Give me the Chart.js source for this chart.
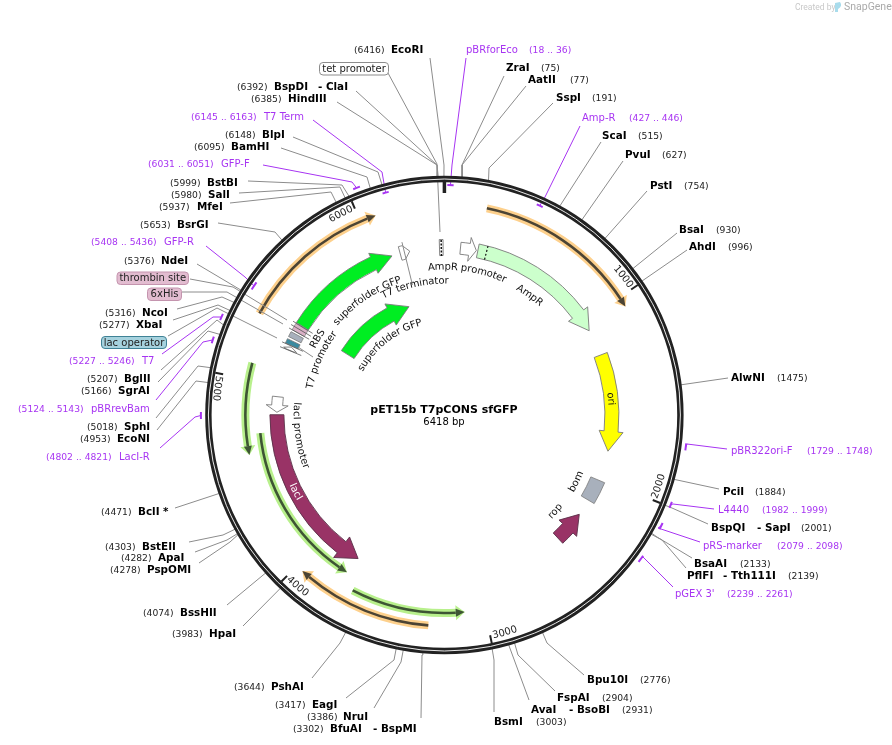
<!DOCTYPE html>
<html>
<head>
<meta charset="utf-8">
<title>pET15b T7pCONS sfGFP</title>
<script src="https://cdn.jsdelivr.net/npm/chart.js@4"></script>
<style>
  html, body { margin: 0; padding: 0; background: #fff; }
  #wrap { width: 892px; height: 745px; }
</style>
</head>
<body>
<div id="wrap"><canvas id="plasmid"></canvas></div>
<script>
// plasmid
const plasmidName = 'pET15b T7pCONS sfGFP';
const plasmidLength = 6418;
const tickValues = [1000, 2000, 3000, 4000, 5000, 6000];

// restriction sites (bp)
const siteNames = ['EcoRI','BspDI','HindIII','BlpI','BamHI','BstBI','SalI','MfeI','BsrGI','NdeI','NcoI','XbaI','BglII','SgrAI','SphI','EcoNI','BclI *','BstEII','ApaI','PspOMI','BssHII','HpaI','PshAI','EagI','NruI','BfuAI','BsmI','AvaI','FspAI','Bpu10I','AlwNI','PciI','BspQI','BsaAI','PflFI','ZraI','AatII','SspI','ScaI','PvuI','PstI','BsaI','AhdI'];
const siteSecondNames = {BspDI: '- ClaI', BfuAI: '- BspMI', AvaI: '- BsoBI', BspQI: '- SapI', PflFI: '- Tth111I'};
const sitePositions = [6416,6392,6385,6148,6095,5999,5980,5937,5653,5376,5316,5277,5207,5166,5018,4953,4471,4303,4282,4278,4074,3983,3644,3417,3386,3302,3003,2931,2904,2776,1475,1884,2001,2133,2139,75,77,191,515,627,754,930,996];

// primers
const primerNames = ['pBRforEco','Amp-R','T7 Term','GFP-F','GFP-R','T7','pBRrevBam','LacI-R','pBR322ori-F','L4440','pRS-marker',"pGEX 3'"];
const primerStarts = [18,427,6145,6031,5408,5227,5124,4802,1729,1982,2079,2239];
const primerEnds = [36,446,6163,6051,5436,5246,5143,4821,1748,1999,2098,2261];
const primerInside = [true,true,true,false,true,false,false,false,false,false,false,false];

// features, start = tail of the arrow, end = tip
const thinNames = ['orange1','orange2','orange3','green1','green2','green3'];
const thinStarts = [207,5327,3287,5084,4713,3701];
const thinEnds = [1053,6079,3963,4607,3776,3104];

const arrowNames = ['superfolder GFP','superfolder GFP','AmpR','AmpR promoter','lacI','lacI promoter','ori','rop','T7 terminator'];
const arrowStarts = [5384,5384,205,98,4815,4925,1230,2448,6145];
const arrowEnds = [6093,6095,1066,196,3762,4830,1827,2253,6205];

// layout of the outer labels, page pixels: nameX, numX, y, lineEndX, lineEndY, elbowX, elbowY
const siteLayout = [
  [391,354,50,430,58,444,165],[274,237,87,356,91,437,165],[288,251,99,337,102,437,165],[262,225,135,293,137,378,172],
  [231,194,147,281,148,367,177],[207,170,183,248,181,342,185],[208,171,195,239,193,340,187],[197,159,207,230,203,331,192],
  [177,140,225,218,223,275,232],[161,124,261,197,264,234,286],[142,105,313,177,309,222,297],[136,99,325,173,320,218,305],
  [124,87,379,161,370,217,320],[118,81,391,158,382,208,331],[124,87,427,156,418,198,366],[117,80,439,157,430,196,381],
  [138,101,512,175,508],[142,105,547,189,542,223,535],[158,121,558,195,552,227,540],[147,110,570,199,563,230,542],
  [180,143,613,227,605],[209,172,634,243,626],[271,234,687,312,678,340,643],[312,275,705,346,698,394,660],
  [343,307,717,374,708,401,662],[330,293,729,421,718,422,655],[494,536,722,494,712,494,660],[531,622,710,529,700],
  [557,602,698,555,691,518,655],[587,640,680,584,675,547,643],[731,777,378,728,378],[723,755,492,719,489],
  [711,801,528,708,524,672,508],[694,740,564,692,558,657,537],[687,788,576,686,568,662,540],[506,541,68,504,76,462,165],
  [528,570,80,526,86,462,165],[556,592,98,553,103,489,168],[602,638,136,601,142],[625,662,155,623,161],
  [650,684,186,647,191],[679,716,230,677,233],[689,728,247,687,250]
];
const secondNameX = {BspDI: 318, BfuAI: 373, AvaI: 569, BspQI: 757, PflFI: 723};
const primerLayout = [
  [466,529,50,466,58,452,165],[582,629,118,580,126,545,197],[264,191,117,313,120,382,172],[221,148,164,263,165,352,182],
  [164,91,242,206,246,245,277],[142,69,361,162,354,213,317],[91,18,409,156,400,203,342],[119,46,457,160,448,195,417],
  [731,807,451,727,449,687,444],[718,762,510,714,509,673,504],[703,777,546,700,542,658,528],[675,727,594,673,587,643,557]
];

const cx = 444.4, cy = 415;
const font = '"DejaVu Sans"';
const purple = '#a734f2';

function polar(bp, r) {
  const a = bp / plasmidLength * 2 * Math.PI;
  return {x: r * Math.sin(a), y: r * Math.cos(a)};
}
function page(x, y) {
  return {x: x - cx, y: cy - y};
}

// leader lines go in as ordinary line datasets
function leader(l, tail, color) {
  const pts = [page(l[3], l[4])];
  if (l.length > 5) pts.push(page(l[5], l[6]));
  pts.push(tail);
  return {data: pts, showLine: true, pointRadius: 0, borderColor: color, borderWidth: 1, tension: 0};
}
const datasets = [];
siteNames.forEach((n, i) => datasets.push(leader(siteLayout[i], polar(sitePositions[i], 237), '#8c8c8c')));
primerNames.forEach((n, i) => {
  const mid = (primerStarts[i] + primerEnds[i]) / 2;
  datasets.push(leader(primerLayout[i], polar(mid, primerInside[i] ? 230 : 243.5), purple));
});
// leaders of the small features inside the ring
[[[388,73],[437,164],[440,232]], [[190,279],[233,287],[287,320]], [[182,292],[227,292],[283,324]], [[168,336],[217,308],[277,338]], [[298,347],[313,357]]].forEach(p => {
  datasets.push({data: p.map(q => page(q[0], q[1])), showLine: true, pointRadius: 0, borderColor: '#8c8c8c', borderWidth: 1, tension: 0});
});

const mapPlugin = {
  id: 'map',
  beforeDatasetsDraw(chart) {
    const ctx = chart.ctx, sx = chart.scales.x, sy = chart.scales.y;
    const X = p => sx.getPixelForValue(p.x), Y = p => sy.getPixelForValue(p.y);
    const ox = sx.getPixelForValue(0), oy = sy.getPixelForValue(0);
    const rad = bp => bp / plasmidLength * 2 * Math.PI - Math.PI / 2;

    function arcLine(a, b, r, color, w) {
      ctx.beginPath();
      ctx.arc(ox, oy, r, rad(a), rad(b), b < a);
      ctx.strokeStyle = color; ctx.lineWidth = w; ctx.lineCap = 'butt'; ctx.stroke();
    }
    function lineTo(bp, r) { const p = polar(bp, r); ctx.lineTo(X(p), Y(p)); }

    function block(a, b, r, half, fill, stroke) {
      ctx.beginPath();
      ctx.arc(ox, oy, r + half, rad(a), rad(b));
      ctx.arc(ox, oy, r - half, rad(b), rad(a), true);
      ctx.closePath();
      ctx.fillStyle = fill; ctx.fill();
      if (stroke) { ctx.strokeStyle = stroke; ctx.lineWidth = 0.8; ctx.stroke(); }
    }
    function arrow(a, b, r, half, headHalf, headLen, fill, stroke) {
      const dir = b > a ? 1 : -1;
      const neck = b - dir * (headLen / r) / (2 * Math.PI) * plasmidLength;
      ctx.beginPath();
      ctx.arc(ox, oy, r + half, rad(a), rad(neck), dir < 0);
      lineTo(neck, r + headHalf);
      lineTo(b, r);
      lineTo(neck, r - headHalf);
      lineTo(neck, r - half);
      ctx.arc(ox, oy, r - half, rad(neck), rad(a), dir > 0);
      ctx.closePath();
      ctx.fillStyle = fill; ctx.fill();
      ctx.strokeStyle = stroke; ctx.lineWidth = 0.9; ctx.lineJoin = 'miter'; ctx.stroke();
    }
    function thinArrow(a, b, r, halo, dark) {
      const dir = b > a ? 1 : -1;
      const neck = b - dir * (9 / r) / (2 * Math.PI) * plasmidLength;
      arcLine(a, neck, r, halo, 8);
      const head = (hw, c) => {
        ctx.beginPath();
        const n = polar(neck, r + hw), t = polar(b, r), m = polar(neck, r - hw);
        ctx.moveTo(X(n), Y(n)); ctx.lineTo(X(t), Y(t)); ctx.lineTo(X(m), Y(m));
        ctx.closePath(); ctx.fillStyle = c; ctx.fill();
      };
      head(7.5, halo);
      arcLine(a, neck, r, dark, 2.6);
      head(4, dark);
    }

    // thin double-tone arrows
    const halos = ['#fdd08c','#fdd08c','#fdd08c','#b8f08c','#b8f08c','#b8f08c'];
    const darks = ['#4c4434','#4c4434','#4c4434','#3e5534','#3e5534','#3e5534'];
    const radii = [211,211,211,199,185,198];
    thinNames.forEach((n, i) => thinArrow(thinStarts[i], thinEnds[i], radii[i], halos[i], darks[i]));

    // main features
    const g = '#7a7a7a';
    arrow(arrowStarts[0], arrowEnds[0], 167.5, 7, 11, 20, '#00ee22', g);
    arrow(arrowStarts[1], arrowEnds[1], 114, 7.5, 12, 20, '#00ee22', g);
    arrow(arrowStarts[2], arrowEnds[2], 167.5, 7, 12, 20, '#ccffcc', g);
    arrow(arrowStarts[3], arrowEnds[3], 167.5, 6, 12, 7, '#ffffff', g);
    arrow(arrowStarts[4], arrowEnds[4], 167.5, 7, 13, 20, '#993366', '#5a3048');
    arrow(arrowStarts[5], arrowEnds[5], 167.5, 5.5, 11, 7, '#ffffff', g);
    arrow(arrowStarts[6], arrowEnds[6], 167.5, 7, 12, 20, '#ffff00', g);
    arrow(arrowStarts[7], arrowEnds[7], 167.5, 7, 12, 18, '#993366', '#5a3048');
    arrow(arrowStarts[8], arrowEnds[8], 167.5, 7, 7, 6, '#ffffff', g);

    // signal peptide boundary on AmpR
    ctx.setLineDash([2, 2]);
    ctx.beginPath();
    let p = polar(258, 174.5); ctx.moveTo(X(p), Y(p));
    lineTo(258, 160.5);
    ctx.strokeStyle = '#111'; ctx.lineWidth = 1.2; ctx.stroke();
    ctx.setLineDash([]);

    // bom
    block(2013, 2150, 166.5, 7.5, '#a8b0bc', '#7a7a7a');

    // small parts next to the T7 promoter: thrombin/6xHis, RBS, lac operator, T7 promoter
    block(5335, 5378, 167.5, 7, '#d9b0c6', '#8a8a8a');
    block(5290, 5322, 167.5, 7, '#a8b0bc', '#7a7a7a');
    block(5248, 5276, 167.5, 7, '#3a8aa0', '#7a7a7a');
    arrow(5218, 5240, 167.5, 5, 7, 3, '#ffffff', g);
    [5380, 5358, 5335, 5246, 5216].forEach(bp => {
      ctx.beginPath();
      let q = polar(bp, 178); ctx.moveTo(X(q), Y(q));
      lineTo(bp, 155);
      ctx.strokeStyle = '#555'; ctx.lineWidth = 0.8; ctx.stroke();
    });

    // tet promoter sliver at the top
    block(6388, 6410, 167.5, 8, '#ffffff', '#666');
    ctx.setLineDash([2, 1.5]);
    ctx.beginPath();
    p = polar(6399, 175); ctx.moveTo(X(p), Y(p));
    lineTo(6399, 159);
    ctx.strokeStyle = '#111'; ctx.lineWidth = 1.5; ctx.stroke();
    ctx.setLineDash([]);

    // whisker through the T7 terminator
    ctx.beginPath();
    p = polar(6172, 178); ctx.moveTo(X(p), Y(p));
    lineTo(6172, 134);
    ctx.strokeStyle = '#8c8c8c'; ctx.lineWidth = 1; ctx.stroke();
  },
  afterDatasetsDraw(chart) {
    const ctx = chart.ctx, sx = chart.scales.x, sy = chart.scales.y;
    const X = p => sx.getPixelForValue(p.x), Y = p => sy.getPixelForValue(p.y);
    const ox = sx.getPixelForValue(0), oy = sy.getPixelForValue(0);
    const rad = bp => bp / plasmidLength * 2 * Math.PI - Math.PI / 2;

    // backbone
    ctx.beginPath(); ctx.arc(ox, oy, 236, 0, 2 * Math.PI);
    ctx.strokeStyle = '#222222'; ctx.lineWidth = 6.4; ctx.stroke();
    ctx.beginPath(); ctx.arc(ox, oy, 236, 0, 2 * Math.PI);
    ctx.strokeStyle = '#ffffff'; ctx.lineWidth = 0.9; ctx.stroke();

    // bp ticks
    function tick(bp, w, r) {
      const a = polar(bp, 233), b = polar(bp, r);
      ctx.beginPath(); ctx.moveTo(X(a), Y(a)); ctx.lineTo(X(b), Y(b));
      ctx.strokeStyle = '#222'; ctx.lineWidth = w; ctx.stroke();
    }
    tick(0, 3.5, 222);
    tickValues.forEach(v => tick(v, 2, 225));

    // primer bars
    primerNames.forEach((n, i) => {
      const r = primerInside[i] ? 230 : 243.5;
      const pad = 5;
      ctx.beginPath();
      ctx.arc(ox, oy, r, rad(primerStarts[i] - pad), rad(primerEnds[i] + pad));
      ctx.strokeStyle = purple; ctx.lineWidth = 2; ctx.stroke();
    });

    ctx.textBaseline = 'middle';
    function text(str, x, y, f, color, align, family) {
      ctx.font = f + ' ' + (family || font); ctx.fillStyle = color; ctx.textAlign = align || 'left';
      ctx.fillText(str, x, y);
    }
    // text running along the circle; flipped text reads counter-clockwise
    function curved(str, deg, r, flipped, f, color) {
      ctx.save();
      ctx.font = f + ' ' + font; ctx.fillStyle = color; ctx.textAlign = 'center';
      const total = ctx.measureText(str).width;
      let run = 0;
      for (let i = 0; i < str.length; i++) {
        const w = ctx.measureText(str[i]).width;
        const off = (run + w / 2 - total / 2) / r;
        const a = deg * Math.PI / 180 + (flipped ? -off : off);
        ctx.save();
        ctx.translate(ox + r * Math.sin(a), oy - r * Math.cos(a));
        ctx.rotate(flipped ? a + Math.PI : a);
        ctx.fillText(str[i], 0, 0);
        ctx.restore();
        run += w;
      }
      ctx.restore();
    }

    // centre title
    text(plasmidName, 444, 410, 'bold 11px', '#000', 'center');
    text(plasmidLength + ' bp', 444, 422, '10px', '#000', 'center');

    // site labels
    siteNames.forEach((n, i) => {
      const l = siteLayout[i];
      text(n, l[0], l[2], 'bold 10.4px', '#000');
      text('(' + sitePositions[i] + ')', l[1], l[2] + 1, '9.2px', '#222');
      if (siteSecondNames[n]) text(siteSecondNames[n], secondNameX[n], l[2], 'bold 10.4px', '#000');
    });
    // primer labels
    primerNames.forEach((n, i) => {
      const l = primerLayout[i];
      text(n, l[0], l[2], '10px', purple);
      text('(' + primerStarts[i] + ' .. ' + primerEnds[i] + ')', l[1], l[2] + 1, '9.2px', purple);
    });

    // boxed feature labels
    function box(str, x, y, w, h, fill, stroke) {
      ctx.beginPath(); ctx.roundRect(x, y, w, h, 3.5);
      ctx.fillStyle = fill; ctx.fill();
      ctx.strokeStyle = stroke; ctx.lineWidth = 1; ctx.stroke();
      text(str, x + w / 2, y + h / 2 + 0.5, '10px', '#222', 'center');
    }
    box('tet promoter', 319.5, 62.5, 69, 12.5, '#ffffff', '#8c8c8c');
    box('thrombin site', 117, 272, 71.5, 12.5, '#e2bcd0', '#c494ae');
    box('6xHis', 147.5, 288, 34, 12.5, '#e2bcd0', '#c494ae');
    box('lac operator', 101.5, 336.5, 65, 12, '#a6d2de', '#3f8296');

    // tick numbers
    tickValues.forEach(v => {
      const deg = v / plasmidLength * 360;
      curved(String(v), deg - 3.8, v === 5000 ? 229 : 226, deg > 90 && deg < 290, '10px', '#222');
    });

    // labels of the inner features
    const c = '#111';
    curved('AmpR promoter', 9, 148, false, '10px', c);
    curved('T7 terminator', 347, 134, false, '10px', c);
    curved('superfolder GFP', 326, 142, false, '10px', c);
    curved('superfolder GFP', 322, 95, false, '10px', c);
    curved('RBS', 301, 148, false, '10px', c);
    curved('T7 promoter', 294, 137, false, '10px', c);
    curved('lacI promoter', 262, 148, true, '10px', c);
    curved('AmpR', 35.5, 147, false, '10px', c);
    curved('ori', 84.5, 167, false, '10px', c);
    curved('rop', 131, 147, true, '10px', c);
    curved('bom', 116.8, 148, true, '10px', c);
    curved('lacI', 242.7, 167.5, true, '10px', '#ffffff');

    // credit in the corner
    text('Created by', 795, 7.5, '8.5px', '#c8c8c8', 'left', 'Roboto');
    ctx.fillStyle = '#a9dcec';
    ctx.beginPath(); ctx.moveTo(835, 12); ctx.lineTo(835, 3); ctx.lineTo(840, 2); ctx.quadraticCurveTo(843, 6, 838, 9); ctx.lineTo(838, 12); ctx.closePath(); ctx.fill();
    text('SnapGene', 844, 7.5, '10.5px', '#aaaaaa', 'left', 'Roboto');
  }
};

new Chart(document.getElementById('plasmid'), {
  type: 'scatter',
  data: {datasets: datasets},
  plugins: [mapPlugin],
  options: {
    responsive: true,
    maintainAspectRatio: false,
    animation: false,
    layout: {padding: 0},
    plugins: {legend: {display: false}, tooltip: {enabled: false}, title: {display: false}},
    scales: {
      x: {type: 'linear', display: false, min: -cx, max: 892 - cx},
      y: {type: 'linear', display: false, min: cy - 745, max: cy}
    }
  }
});
</script>
</body>
</html>
